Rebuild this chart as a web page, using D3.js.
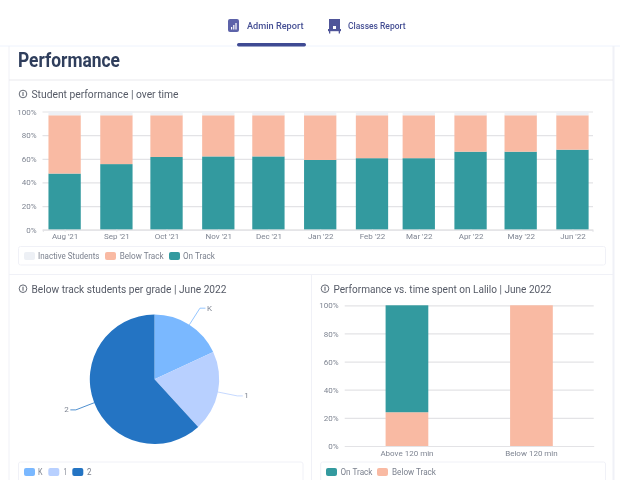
<!DOCTYPE html>
<html><head><meta charset="utf-8">
<script src="https://cdn.jsdelivr.net/npm/d3@7/dist/d3.min.js"></script>
<style>
html,body{margin:0;padding:0;background:#fff}
svg{display:block;filter:blur(.35px)}
text{font-family:"Roboto",sans-serif}
</style></head><body>
<svg id="c" width="620" height="492"></svg>
<script>
const months = ["2021-08-01","2021-09-01","2021-10-01","2021-11-01","2021-12-01","2022-01-01","2022-02-01","2022-03-01","2022-04-01","2022-05-01","2022-06-01"];
const monthLabels = ["Aug '21","Sep '21","Oct '21","Nov '21","Dec '21","Jan '22","Feb '22","Mar '22","Apr '22","May '22","Jun '22"];
const onTrack = [47.5,55.5,61.5,62,62,59,60.5,60.5,66,66,67.7];
const belowTrack = [49.3,41.3,35.3,34.8,34.8,37.8,36.3,36.3,30.8,30.8,29.1];
const inactive = [3.2,3.2,3.2,3.2,3.2,3.2,3.2,3.2,3.2,3.2,3.2];
const grades = ["K","1","2"];
const gradeValues = [18.1,20.1,61.8];
const timeCats = ["Above 120 min","Below 120 min"];
const timeBelow = [24,100];
const timeOn = [76,0];
const pctTicks = [0,20,40,60,80,100];

const C = {teal:"#339a9f",salmon:"#f9baa3",inactive:"#edf0f5",k:"#7ab8ff",g1:"#b8d0ff",g2:"#2474c3",
  grid:"#e3e3e6",border:"#f0f1f7",tick:"#7f8592",title:"#555a66",legend:"#7b818e",navy:"#2f3e5c",nav:"#454f94"};
const svg = d3.select("#c");
const fmt = d => d + "%";

function line(x1,y1,x2,y2,c=C.border,w=1){svg.append("line").attr("x1",x1).attr("y1",y1).attr("x2",x2).attr("y2",y2).attr("stroke",c).attr("stroke-width",w);}
function infoIcon(x,y){
  const g = svg.append("g").attr("transform",`translate(${x},${y})`);
  g.append("circle").attr("r",3.8).attr("fill","none").attr("stroke","#555a66").attr("stroke-width",.9);
  g.append("line").attr("y1",-2).attr("y2",2).attr("stroke","#555a66").attr("stroke-width",1);
}
function cardTitle(x,y,t,w){
  infoIcon(x+4,y);
  svg.append("text").attr("x",x+12.5).attr("y",y).attr("dy",".35em").attr("font-size",11).attr("fill",C.title)
    .attr("textLength",w).attr("lengthAdjust","spacingAndGlyphs").text(t);
}
function legend(items,y){
  items.forEach(([x,col,label,tx,tw])=>{
    svg.append("rect").attr("x",x).attr("y",y-4).attr("width",11).attr("height",8).attr("rx",2).attr("fill",col);
    svg.append("text").attr("x",tx).attr("y",y).attr("dy",".35em").attr("font-size",9).attr("fill",C.legend)
      .attr("textLength",tw).attr("lengthAdjust","spacingAndGlyphs").text(label);
  });
}
function styleAxis(g){
  g.selectAll("text").attr("font-size",8).attr("fill",C.tick);
}

/* Frame */
line(0,46,620,46,"#eef3fd");
line(9,46,9,480);
line(613.5,46,613.5,480,C.border,2);
line(9,80,613,80,"#e9e9ed");
line(9,274.5,613,274.5);
line(311.5,275,311.5,480);

/* Nav */
const ic = svg.append("g");
ic.append("rect").attr("x",228).attr("y",19).attr("width",11).attr("height",13).attr("rx",2).attr("fill","#5d63a9");
[[231,27,1.2,2.5],[233.2,25,1.2,4.5],[235.4,23,1.2,6.5]].forEach(d=>ic.append("rect").attr("x",d[0]).attr("y",d[1]).attr("width",d[2]).attr("height",d[3]).attr("fill","#fff"));
svg.append("text").attr("x",247).attr("y",26).attr("dy",".35em").attr("font-size",9.5).attr("font-weight",500).attr("fill",C.nav)
  .attr("textLength",56.5).attr("lengthAdjust","spacingAndGlyphs").text("Admin Report");
svg.append("rect").attr("x",237).attr("y",43).attr("width",69).attr("height",3.4).attr("rx",1.7).attr("fill","#3f4a93");
const cl = svg.append("g").attr("fill","#4f5599");
cl.append("rect").attr("x",329).attr("y",19).attr("width",11).attr("height",10.5);
cl.append("rect").attr("x",328).attr("y",29).attr("width",13).attr("height",2.2);
cl.append("rect").attr("x",329).attr("y",31).attr("width",1.3).attr("height",2.5);
cl.append("rect").attr("x",338.7).attr("y",31).attr("width",1.3).attr("height",2.5);
svg.append("rect").attr("x",333).attr("y",26).attr("width",3).attr("height",3).attr("fill","#fff");
svg.append("text").attr("x",348).attr("y",26).attr("dy",".35em").attr("font-size",9.5).attr("font-weight",500).attr("fill",C.nav)
  .attr("textLength",57.5).attr("lengthAdjust","spacingAndGlyphs").text("Classes Report");

/* Heading */
svg.append("text").attr("x",18).attr("y",67).attr("font-size",20).attr("font-weight",700).attr("fill",C.navy)
  .attr("textLength",102).attr("lengthAdjust","spacingAndGlyphs").text("Performance");

/* Over time chart */
cardTitle(19,94,"Student performance | over time",147);
const parse = d3.utcParse("%Y-%m-%d");
const dates = months.map(parse);
const x1 = d3.scaleUtc().domain([parse("2021-07-19"),parse("2022-06-13")]).range([42.9,592.5]);
const y1 = d3.scaleLinear().domain([0,100]).range([229.7,111.5]);
const barW = 32.3;
const ax1 = svg.append("g").attr("transform","translate(42.5,0)")
  .call(d3.axisLeft(y1).tickValues(pctTicks).tickFormat(fmt).tickSize(-550.5).tickPadding(6));
ax1.select(".domain").remove();
ax1.selectAll(".tick line").attr("stroke",C.grid).attr("stroke-width",1.2);
styleAxis(ax1);
const series1 = d3.stack().keys(["on","below","inactive"])(dates.map((d,i)=>({d,on:onTrack[i],below:belowTrack[i],inactive:inactive[i]})));
const cols1 = [C.teal,C.salmon,C.inactive];
series1.forEach((s,k)=>{
  svg.append("g").selectAll("rect").data(s).join("rect")
    .attr("x",d=>x1(d.data.d)-barW/2).attr("width",barW)
    .attr("y",d=>y1(d[1])).attr("height",d=>y1(d[0])-y1(d[1])).attr("fill",cols1[k]);
});
const bx1 = svg.append("g").attr("transform","translate(0,229.7)")
  .call(d3.axisBottom(x1).tickValues(dates).tickFormat((d,i)=>monthLabels[i]).tickSize(2).tickPadding(1.5));
bx1.select(".domain").attr("stroke",C.grid).attr("stroke-width",1.2);
bx1.selectAll(".tick line").attr("stroke",C.grid);
styleAxis(bx1);
svg.append("rect").attr("x",18.5).attr("y",246.5).attr("width",587).attr("height",18.5).attr("rx",2).attr("fill","none").attr("stroke",C.border);
legend([[24,C.inactive,"Inactive Students",38,61.5],[105,C.salmon,"Below Track",119.7,44],[169,C.teal,"On Track",183,32]],256);

/* Pie */
cardTitle(19,288.7,"Below track students per grade | June 2022",195);
const cx=154.5, cy=379.3, R=64.7;
const pie = d3.pie().sort(null)(gradeValues);
const pieCols = [C.k,C.g1,C.g2];
const arc = d3.arc().innerRadius(0).outerRadius(R);
const pg = svg.append("g").attr("transform",`translate(${cx},${cy})`);
pg.selectAll("path").data(pie).join("path").attr("d",arc).attr("fill",(d,i)=>pieCols[i]);
const outer = d3.arc().innerRadius(R).outerRadius(R);
const elbow = d3.arc().innerRadius(84.4).outerRadius(84.4);
pie.forEach((d,i)=>{
  const p0 = outer.centroid(d), p1 = elbow.centroid(d);
  const sgn = p1[0]>=0?1:-1;
  const p2 = [p1[0]+sgn*5.5,p1[1]];
  pg.append("polyline").attr("points",[p0,p1,p2].join(" ")).attr("fill","none").attr("stroke",pieCols[i]).attr("stroke-opacity",.8).attr("stroke-width",1);
  pg.append("text").attr("x",p2[0]+sgn*1.5).attr("y",p2[1]).attr("dy",".3em").attr("text-anchor",sgn>0?"start":"end")
    .attr("font-size",8).attr("fill",C.tick).text(grades[i]);
});
svg.append("path").attr("d","M18.5,480V464a2,2 0 0 1 2,-2H301a2,2 0 0 1 2,2V480").attr("fill","none").attr("stroke",C.border);
legend([[24,C.k,"K",38,4.5],[48.3,C.g1,"1",63.5,3.5],[72.3,C.g2,"2",87,4.5]],472);

/* Time chart */
cardTitle(321,288.7,"Performance vs. time spent on Lalilo | June 2022",218);
const x2 = d3.scaleBand().domain(timeCats).range([344.7,593.7]).paddingInner(.657).paddingOuter(.3285);
const y2 = d3.scaleLinear().domain([0,100]).range([446,305.3]);
const ax2 = svg.append("g").attr("transform","translate(344.7,0)")
  .call(d3.axisLeft(y2).tickValues(pctTicks).tickFormat(fmt).tickSize(-249).tickPadding(6));
ax2.select(".domain").remove();
ax2.selectAll(".tick line").attr("stroke",C.grid).attr("stroke-width",1.2);
styleAxis(ax2);
const series2 = d3.stack().keys(["below","on"])(timeCats.map((c,i)=>({c,below:timeBelow[i],on:timeOn[i]})));
const cols2 = [C.salmon,C.teal];
series2.forEach((s,k)=>{
  svg.append("g").selectAll("rect").data(s).join("rect")
    .attr("x",d=>x2(d.data.c)).attr("width",x2.bandwidth())
    .attr("y",d=>y2(d[1])).attr("height",d=>y2(d[0])-y2(d[1])).attr("fill",cols2[k]);
});
const bx2 = svg.append("g").attr("transform","translate(0,446)")
  .call(d3.axisBottom(x2).tickSize(0).tickPadding(4));
bx2.select(".domain").attr("stroke",C.grid).attr("stroke-width",1.2);
styleAxis(bx2);
svg.append("path").attr("d","M320.7,480V464a2,2 0 0 1 2,-2H603.5a2,2 0 0 1 2,2V480").attr("fill","none").attr("stroke",C.border);
legend([[326,C.teal,"On Track",340.5,32],[377,C.salmon,"Below Track",392,44]],472);
</script>
</body></html>
